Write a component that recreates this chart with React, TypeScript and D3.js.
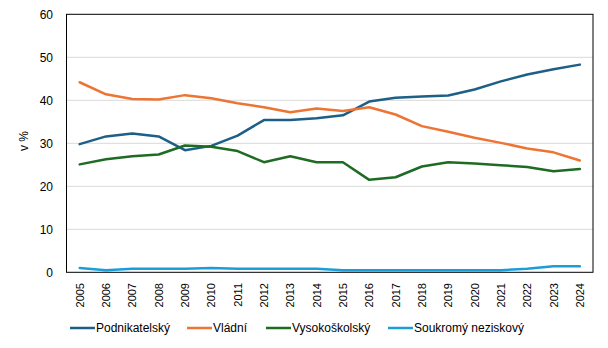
import React from "react";
import * as d3 from "d3";
import { useEffect, useRef } from "react";

const years = [
  "2005", "2006", "2007", "2008", "2009", "2010", "2011", "2012", "2013", "2014",
  "2015", "2016", "2017", "2018", "2019", "2020", "2021", "2022", "2023", "2024",
];
const podnikatelsky = [29.8, 31.6, 32.3, 31.6, 28.4, 29.4, 31.8, 35.4, 35.4, 35.8, 36.5, 39.7, 40.6, 40.9, 41.1, 42.5, 44.4, 46.0, 47.2, 48.3];
const vladni = [44.2, 41.4, 40.3, 40.2, 41.2, 40.5, 39.3, 38.4, 37.2, 38.1, 37.5, 38.4, 36.7, 34.0, 32.7, 31.3, 30.1, 28.8, 27.9, 26.0];
const vysokoskolsky = [25.1, 26.3, 27.0, 27.4, 29.5, 29.2, 28.2, 25.6, 27.0, 25.6, 25.6, 21.5, 22.1, 24.6, 25.6, 25.3, 24.9, 24.5, 23.5, 24.0];
const soukromy = [1.0, 0.5, 0.8, 0.8, 0.8, 1.0, 0.8, 0.8, 0.8, 0.8, 0.5, 0.5, 0.5, 0.5, 0.5, 0.5, 0.5, 0.8, 1.4, 1.4];
const yTicks = [0, 10, 20, 30, 40, 50, 60];

const seriesNames = ["Podnikatelský", "Vládní", "Vysokoškolský", "Soukromý neziskový"];
const seriesValues = [podnikatelsky, vladni, vysokoskolsky, soukromy];
const colors = ["#1d5f86", "#ed7432", "#1e6b24", "#1a9ed8"];
const legendX = [70, 187, 266, 388];

export default function App() {
  const svgRef = useRef<SVGSVGElement>(null);
  const width = 608;
  const height = 348;
  const left = 66.5;
  const right = 593;
  const top = 14.3;
  const bottom = 272.3;

  useEffect(() => {
    const svg = d3.select(svgRef.current);
    svg.selectAll("*").remove();
    const font = "'Liberation Sans', Arial, sans-serif";

    const xScale = d3.scaleBand().domain(years).range([left, right]);
    const yScale = d3.scaleLinear().domain([0, 60]).range([bottom, top]);

    // gridlines
    svg
      .append("g")
      .selectAll("line")
      .data(yTicks.slice(1, -1))
      .enter()
      .append("line")
      .attr("x1", left)
      .attr("x2", right)
      .attr("y1", (d) => yScale(d))
      .attr("y2", (d) => yScale(d))
      .attr("stroke", "#d9d9d9")
      .attr("stroke-width", 1);

    // y tick labels
    svg
      .append("g")
      .selectAll("text")
      .data(yTicks)
      .enter()
      .append("text")
      .attr("x", 53)
      .attr("y", (d) => yScale(d))
      .attr("dy", "0.35em")
      .attr("text-anchor", "end")
      .attr("font-family", font)
      .attr("font-size", 12)
      .attr("fill", "#000")
      .text((d) => d);

    // x tick labels
    svg
      .append("g")
      .selectAll("text")
      .data(years)
      .enter()
      .append("text")
      .attr(
        "transform",
        (d) => `translate(${xScale(d)! + xScale.bandwidth() / 2 + 4}, 283) rotate(-90)`
      )
      .attr("text-anchor", "end")
      .attr("font-family", font)
      .attr("font-size", 11)
      .attr("fill", "#000")
      .text((d) => d);

    // y axis title
    svg
      .append("text")
      .attr("transform", "translate(28, 141) rotate(-90)")
      .attr("text-anchor", "middle")
      .attr("font-family", font)
      .attr("font-size", 12)
      .attr("fill", "#000")
      .text("v %");

    const line = d3
      .line<number>()
      .x((d, i) => xScale(years[i])! + xScale.bandwidth() / 2)
      .y((d) => yScale(d));

    seriesValues.forEach((vals, i) => {
      svg
        .append("path")
        .datum(vals)
        .attr("d", line)
        .attr("fill", "none")
        .attr("stroke", colors[i])
        .attr("stroke-width", 2.5)
        .attr("stroke-linejoin", "round")
        .attr("stroke-linecap", "round");
    });

    // frame
    svg
      .append("rect")
      .attr("x", left)
      .attr("y", top)
      .attr("width", right - left)
      .attr("height", bottom - top)
      .attr("fill", "none")
      .attr("stroke", "#000")
      .attr("stroke-width", 1);

    // legend
    const legend = svg.append("g");
    seriesNames.forEach((name, i) => {
      legend
        .append("line")
        .attr("x1", legendX[i])
        .attr("x2", legendX[i] + 25)
        .attr("y1", 328)
        .attr("y2", 328)
        .attr("stroke", colors[i])
        .attr("stroke-width", 2.5);
      legend
        .append("text")
        .attr("x", legendX[i] + 26)
        .attr("y", 328)
        .attr("dy", "0.35em")
        .attr("font-family", font)
        .attr("font-size", 12)
        .attr("fill", "#000")
        .text(name);
    });
  }, []);

  return (
    <svg
      ref={svgRef}
      width={width}
      height={height}
      style={{ position: "absolute", left: 0, top: 0, background: "#fff" }}
    ></svg>
  );
}
